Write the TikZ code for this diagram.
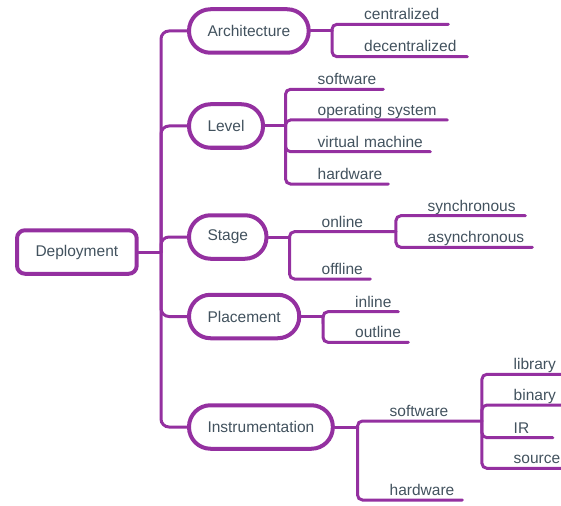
\documentclass[tikz,border=0pt]{standalone}
\usepackage{fontspec}
\setmainfont{Liberation Sans}
\definecolor{purp}{RGB}{148,48,160}
\definecolor{ink}{RGB}{66,82,94}
\begin{document}
\begin{tikzpicture}[x=1pt,y=-1pt,font=\fontsize{15.5}{18}\selectfont,
  branch/.style={draw=purp,line width=4pt,rounded corners=21.5pt,fill=white,
    minimum height=43.5pt,inner xsep=18.5pt,text=ink},
  root/.style={branch,rounded corners=8pt,inner xsep=18.5pt},
  leaf/.style={anchor=south west,inner xsep=0pt,inner ysep=4.5pt,
    text depth=0pt,align=left,text=ink},
  link/.style={draw=purp,line width=3pt,line cap=round,rounded corners=5pt}]
\useasboundingbox (0,0) rectangle (561,505);

\node[root,anchor=west] (dep) at (15,252) {Deployment};
\node[branch,anchor=west] (arch) at (187,31) {Architecture};
\node[branch,anchor=west] (level) at (187,126) {Level};
\node[branch,anchor=west] (stage) at (187,237) {Stage};
\node[branch,anchor=west] (place) at (187,316.5) {Placement};
\node[branch,anchor=west] (instr) at (187,427) {Instrumentation};

\coordinate (trunk) at (161,252);
\coordinate (jarch) at (332,31);
\coordinate (jlevel) at (285.5,126);
\coordinate (jstage) at (289.5,237);
\coordinate (jplace) at (323,316.5);
\coordinate (jinstr) at (357.5,427);

\node[leaf,text width=84pt] (cent) at (364,24.3) {centralized};
\node[leaf,text width=103pt] (decent) at (364,56.7) {decentralized};

\node[leaf,text width=65.5pt] (lsoft) at (317.5,89.3) {software};
\node[leaf,text width=129.5pt] (los) at (317.5,120) {operating system};
\node[leaf,text width=112.5pt] (lvm) at (317.5,151.7) {virtual machine};
\node[leaf,text width=70.5pt] (lhw) at (317.5,184) {hardware};

\node[leaf,text width=74pt] (online) at (321.5,231.7) {online};
\node[leaf,text width=48.5pt] (offline) at (321.5,279) {offline};
\node[leaf,text width=97.5pt] (sync) at (427.5,215.7) {synchronous};
\node[leaf,text width=104.5pt] (async) at (427.5,247.3) {asynchronous};

\node[leaf,text width=43pt] (inline) at (355,311.7) {inline};
\node[leaf,text width=53pt] (outline) at (355,342.3) {outline};

\node[leaf,text width=92pt] (isoft) at (389.5,421) {software};
\node[leaf,text width=72.5pt] (ihw) at (389.5,500) {hardware};
\node[leaf,text width=60pt] (lib) at (513.5,374.3) {library};
\node[leaf,text width=60pt] (bin) at (513.5,405) {binary};
\node[leaf,text width=39pt] (ir) at (513.5,437.7) {IR};
\node[leaf,text width=60pt] (src) at (513.5,468.3) {source};

\draw[link] (dep.east) -- (trunk);
\foreach \b in {arch,level,stage,place,instr}
  \draw[link,rounded corners=8pt] (trunk) |- (\b.west);
\draw[link] (arch.east) -- (jarch);
\foreach \c in {cent,decent}
  \draw[link] (jarch) |- (\c.south east);
\draw[link] (level.east) -- (jlevel);
\foreach \c in {lsoft,los,lvm,lhw}
  \draw[link] (jlevel) |- (\c.south east);
\draw[link] (stage.east) -- (jstage);
\foreach \c in {online,offline}
  \draw[link] (jstage) |- (\c.south east);
\foreach \c in {sync,async}
  \draw[link] (online.south east) |- (\c.south east);
\draw[link] (place.east) -- (jplace);
\foreach \c in {inline,outline}
  \draw[link] (jplace) |- (\c.south east);
\draw[link] (instr.east) -- (jinstr);
\foreach \c in {isoft,ihw}
  \draw[link] (jinstr) |- (\c.south east);
\foreach \c in {lib,bin,ir,src}
  \draw[link] (isoft.south east) |- (\c.south east);

\end{tikzpicture}
\end{document}
